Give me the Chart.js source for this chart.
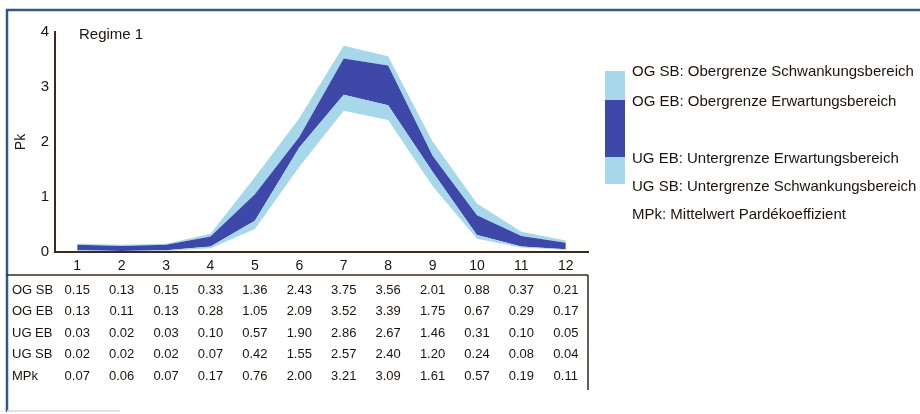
<!DOCTYPE html>
<html lang="de">
<head>
<meta charset="utf-8">
<title>Regime 1 - Pardekoeffizient</title>
<script src="https://cdn.jsdelivr.net/npm/chart.js@4.4.1/dist/chart.umd.min.js"></script>
<style>
    html, body { margin: 0; padding: 0; background: #fff; }
    #wrap { width: 920px; height: 414px; }
</style>
</head>
<body>
<div id="wrap"><canvas id="regimeChart" width="920" height="414"></canvas></div>
<script>
// Monate 1..12 und Grenzwerte (aus der Tabelle der Vorlage)
const months = ['1', '2', '3', '4', '5', '6', '7', '8', '9', '10', '11', '12'];
const ogSB = [0.15, 0.13, 0.15, 0.33, 1.36, 2.43, 3.75, 3.56, 2.01, 0.88, 0.37, 0.21];
const ogEB = [0.13, 0.11, 0.13, 0.28, 1.05, 2.09, 3.52, 3.39, 1.75, 0.67, 0.29, 0.17];
const ugEB = [0.03, 0.02, 0.03, 0.10, 0.57, 1.90, 2.86, 2.67, 1.46, 0.31, 0.10, 0.05];
const ugSB = [0.02, 0.02, 0.02, 0.07, 0.42, 1.55, 2.57, 2.40, 1.20, 0.24, 0.08, 0.04];
const mpk  = [0.07, 0.06, 0.07, 0.17, 0.76, 2.00, 3.21, 3.09, 1.61, 0.57, 0.19, 0.11];

const rowLabels = ['OG SB', 'OG EB', 'UG EB', 'UG SB', 'MPk'];
const rowValues = [ogSB, ogEB, ugEB, ugSB, mpk];

const legendTexts = [
    'OG SB: Obergrenze Schwankungsbereich',
    'OG EB: Obergrenze Erwartungsbereich',
    'UG EB: Untergrenze Erwartungsbereich',
    'UG SB: Untergrenze Schwankungsbereich',
    'MPk: Mittelwert Pardékoeffizient'
];

const FONT = '"Liberation Sans", Arial, sans-serif';
const TEXT = '#1e130c';
const LIGHT = '#a7d7ea';
const DARK = '#3e48a9';
const FRAME = '#35568c';

document.addEventListener('DOMContentLoaded', function () {
    renderChart();
});

// Rahmen, Tabelle, Legende und "Regime 1"
const extrasPlugin = {
    id: 'extras',
    afterDraw(chart) {
        const ctx = chart.ctx;
        const x = chart.scales.x;
        ctx.save();

        // Rahmen
        ctx.strokeStyle = FRAME;
        ctx.lineWidth = 2.5;
        ctx.beginPath();
        ctx.moveTo(7, 412);
        ctx.lineTo(7, 10);
        ctx.lineTo(920, 10);
        ctx.stroke();
        ctx.strokeStyle = '#dbe2ec';
        ctx.lineWidth = 2;
        ctx.beginPath();
        ctx.moveTo(7, 411);
        ctx.lineTo(120, 411);
        ctx.stroke();

        // Tabellenlinien
        ctx.strokeStyle = '#3a2a20';
        ctx.lineWidth = 1.5;
        ctx.beginPath();
        ctx.moveTo(7, 275);
        ctx.lineTo(x.right, 275);
        ctx.moveTo(x.right, 275);
        ctx.lineTo(x.right, 390);
        ctx.stroke();

        // Tabelle
        ctx.fillStyle = TEXT;
        ctx.font = '13px ' + FONT;
        ctx.textBaseline = 'middle';
        rowLabels.forEach((label, r) => {
            const y = 290 + r * 21.5;
            ctx.textAlign = 'left';
            ctx.fillText(label, 12, y);
            ctx.textAlign = 'center';
            rowValues[r].forEach((v, i) => {
                ctx.fillText(v.toFixed(2), x.getPixelForValue(i), y);
            });
        });

        // Titel im Diagramm
        ctx.font = '15px ' + FONT;
        ctx.textAlign = 'left';
        ctx.fillText('Regime 1', 79, 35);

        // Legende: Farbbalken
        ctx.fillStyle = LIGHT;
        ctx.fillRect(605, 71, 20, 29);
        ctx.fillRect(605, 157, 20, 27);
        ctx.fillStyle = DARK;
        ctx.fillRect(605, 100, 20, 57);

        // Legende: Texte
        const legendY = [72, 102, 159, 187, 215];
        ctx.fillStyle = TEXT;
        ctx.font = '15px ' + FONT;
        legendTexts.forEach((t, i) => {
            ctx.fillText(t, 632, legendY[i]);
        });

        ctx.restore();
    }
};

function renderChart() {
    const ctx = document.getElementById('regimeChart').getContext('2d');
    const hidden = 'rgba(0,0,0,0)';

    new Chart(ctx, {
        type: 'line',
        data: {
            labels: months,
            datasets: [
                { label: 'UG SB', data: ugSB, fill: false, borderColor: hidden, backgroundColor: hidden },
                { label: 'UG EB', data: ugEB, fill: '-1', borderColor: hidden, backgroundColor: LIGHT },
                { label: 'OG EB', data: ogEB, fill: '-1', borderColor: hidden, backgroundColor: DARK },
                { label: 'OG SB', data: ogSB, fill: '-1', borderColor: hidden, backgroundColor: LIGHT }
            ]
        },
        options: {
            responsive: false,
            animation: false,
            layout: { padding: { left: 0, right: 332, top: 32, bottom: 0 } },
            elements: {
                point: { radius: 0, hoverRadius: 0 },
                line: { borderWidth: 0, tension: 0 }
            },
            plugins: {
                legend: { display: false },
                tooltip: { enabled: false }
            },
            scales: {
                x: {
                    offset: true,
                    grid: { display: false, drawTicks: false },
                    border: { display: true, color: '#3a2a20', width: 2 },
                    ticks: { color: TEXT, font: { family: FONT, size: 14 }, padding: 6 },
                    afterFit: s => { s.height = 162; }
                },
                y: {
                    min: 0,
                    max: 4,
                    grid: { display: false, drawTicks: false },
                    border: { display: true, color: '#3a2a20', width: 2 },
                    ticks: { stepSize: 1, color: TEXT, font: { family: FONT, size: 15 }, padding: 6 },
                    title: { display: true, text: 'Pk', color: TEXT, font: { family: FONT, size: 14 }, padding: { top: 13, bottom: 0 } },
                    afterFit: s => { s.width = 55; }
                }
            }
        },
        plugins: [extrasPlugin]
    });
}
</script>
</body>
</html>
